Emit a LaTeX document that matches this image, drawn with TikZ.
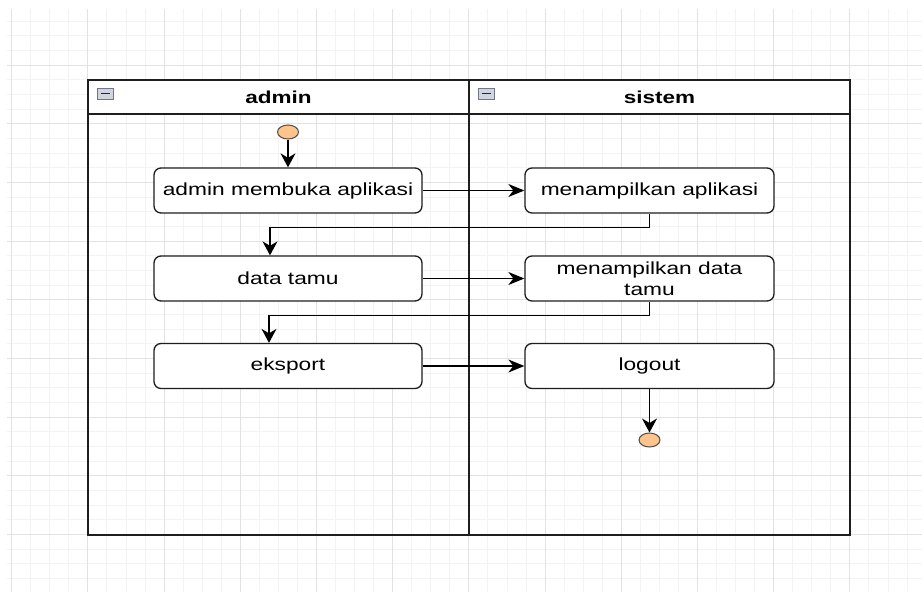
\documentclass[tikz,border=0pt]{standalone}
\usepackage{fontspec}
\setmainfont{Liberation Sans}
\usetikzlibrary{arrows.meta,shapes.geometric,calc}
\newcommand{\hstretch}[1]{\scalebox{1.3}[1]{#1}}
\definecolor{gridminor}{RGB}{243,243,243}
\definecolor{gridmajor}{RGB}{226,226,226}
\definecolor{startfill}{RGB}{255,196,140}
\definecolor{inkdark}{RGB}{30,30,30}
\tikzset{
  actbox/.style={draw=inkdark, line width=1.3pt, rounded corners=7pt, fill=white,
    minimum height=45pt, inner sep=0pt, align=center, text=black,
    font=\fontsize{17.5}{21.5}\selectfont},
  dot/.style={ellipse, draw=inkdark!80, line width=1pt, fill=startfill,
    minimum width=21pt, minimum height=14pt, inner sep=0pt},
  arrv/.style={line width=1.4pt, draw=black, -{Stealth[length=14pt,width=15pt,inset=4.5pt]}},
  arrh/.style={line width=1.4pt, draw=black, -{Stealth[length=16pt,width=13pt,inset=5pt]}},
  headtxt/.style={font=\fontsize{17.3}{20}\selectfont\bfseries, text=black, inner sep=0pt},
  minusicon/.style={draw={rgb,255:red,110;green,118;blue,135}, fill={rgb,255:red,208;green,213;blue,224}, line width=0.8pt}
}
\begin{document}
\begin{tikzpicture}[x=1pt,y=-1pt]
\useasboundingbox (0,0) rectangle (922,592);
\fill[white] (0,0) rectangle (922,592);
% grid
\begin{scope}
\clip (7,9) rectangle (922,592);
\foreach \i in {0,...,48} {\draw[gridminor, line width=1pt] ({11.7+\i*19.05},0) -- ({11.7+\i*19.05},592);}
\foreach \i in {0,...,39} {\draw[gridminor, line width=1pt] (0,{21+\i*14.67}) -- (922,{21+\i*14.67});}
\foreach \i in {0,...,12} {\draw[gridmajor, line width=1pt] ({11.7+\i*76.2},0) -- ({11.7+\i*76.2},592);}
\foreach \i in {0,...,9} {\draw[gridmajor, line width=1pt] (0,{65+\i*58.7}) -- (922,{65+\i*58.7});}
\end{scope}
% pool
\fill[white] (88,80) rectangle (850,114);
\draw[inkdark, line width=1.4pt] (88,80) rectangle (850,535);
\draw[inkdark, line width=1.4pt] (88,114) -- (850,114);
\draw[inkdark, line width=1.4pt] (469,80) -- (469,535);
% minus icons
\draw[minusicon] (97,88) rectangle (113,99);
\draw[black!85, line width=1.6pt] (100.5,93.5) -- (109.5,93.5);
\draw[minusicon] (478,88) rectangle (494,99);
\draw[black!85, line width=1.6pt] (481.5,93.5) -- (490.5,93.5);
\node[headtxt] (hadmin) at (278.5,97) {\hstretch{admin}};
\node[headtxt] (hsistem) at (659.5,97) {\hstretch{sistem}};
% nodes
\node[dot] (start) at (288,132) {};
\node[actbox, minimum width=268pt] (n1) at (288,190.5) {\hstretch{admin membuka aplikasi}};
\node[actbox, minimum width=249pt] (n2) at (649.5,190.5) {\hstretch{menampilkan aplikasi}};
\node[actbox, minimum width=268pt] (n3) at (288,278.5) {\hstretch{data tamu}};
\node[actbox, minimum width=249pt] (n4) at (649.5,278.5) {\hstretch{menampilkan data}\\[-1pt]\hstretch{tamu}};
\node[actbox, minimum width=268pt] (n5) at (288,366) {\hstretch{eksport}};
\node[actbox, minimum width=249pt] (n6) at (649.5,366) {\hstretch{logout}};
\node[dot] (end) at (649.5,440) {};
% connectors
\draw[arrv] (start) -- (n1);
\draw[arrh] (n1) -- (n2);
\draw[arrv] (n2.south) -- ++(0,14) -| ([xshift=-18pt]n3.north);
\draw[arrh] (n3) -- (n4);
\draw[arrv] (n4.south) -- ++(0,14) -| ([xshift=-19pt]n5.north);
\draw[arrh] (n5) -- (n6);
\draw[arrv] (n6) -- (end);
\end{tikzpicture}
\end{document}
